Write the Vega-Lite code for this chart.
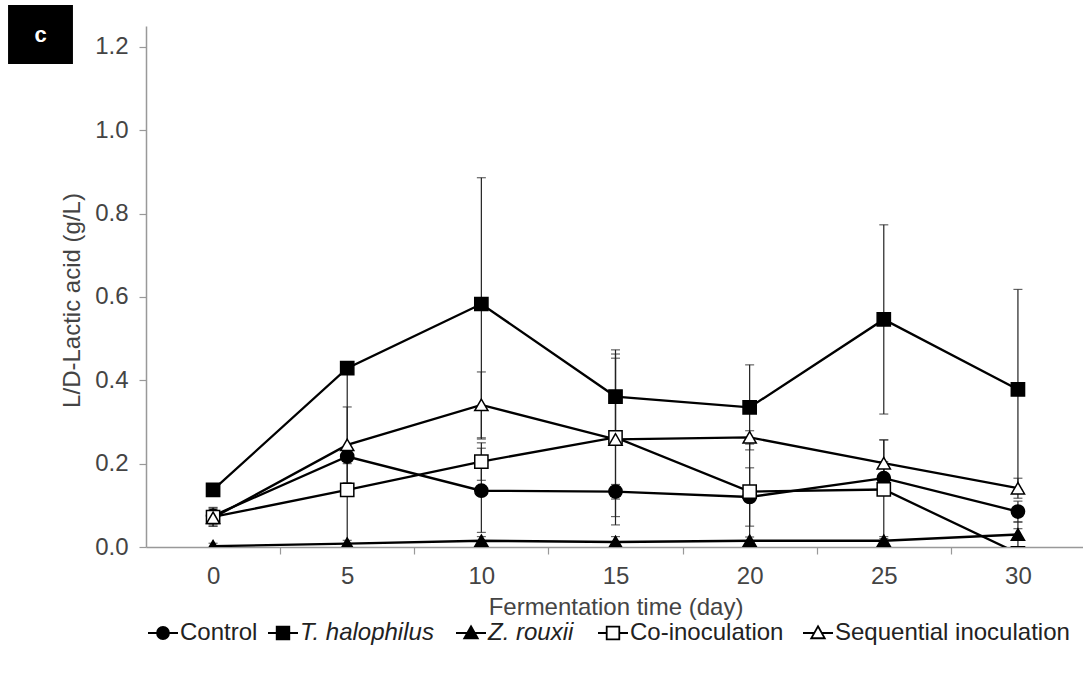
{
  "$schema": "https://vega.github.io/schema/vega-lite/v6.json",
  "width": 939,
  "height": 521,
  "autosize": "none",
  "padding": {"left": 146, "top": 26, "right": 0, "bottom": 132},
  "background": "white",
  "config": {
    "font": "Liberation Sans",
    "view": {"stroke": null},
    "axis": {"grid": false}
  },
  "data": {
    "values": [
      {"day": 0, "series": "Control", "v": 0.075, "lo": 0.055, "hi": 0.095},
      {"day": 5, "series": "Control", "v": 0.217, "lo": 0.2, "hi": 0.234},
      {"day": 10, "series": "Control", "v": 0.135, "lo": 0.035, "hi": 0.237},
      {"day": 15, "series": "Control", "v": 0.133, "lo": 0.115, "hi": 0.15},
      {"day": 20, "series": "Control", "v": 0.12, "lo": 0.05, "hi": 0.19},
      {"day": 25, "series": "Control", "v": 0.165, "lo": 0.125, "hi": 0.205},
      {"day": 30, "series": "Control", "v": 0.085, "lo": 0.06, "hi": 0.11},
      {"day": 0, "series": "T. halophilus", "v": 0.137, "lo": 0.127, "hi": 0.147},
      {"day": 5, "series": "T. halophilus", "v": 0.429, "lo": -0.03, "hi": 0.429},
      {"day": 10, "series": "T. halophilus", "v": 0.583, "lo": 0.259, "hi": 0.886},
      {"day": 15, "series": "T. halophilus", "v": 0.361, "lo": 0.249, "hi": 0.473},
      {"day": 20, "series": "T. halophilus", "v": 0.335, "lo": 0.233, "hi": 0.437},
      {"day": 25, "series": "T. halophilus", "v": 0.546, "lo": 0.319, "hi": 0.773},
      {"day": 30, "series": "T. halophilus", "v": 0.378, "lo": 0.138, "hi": 0.618},
      {"day": 0, "series": "Z. rouxii", "v": 0.002, "lo": -0.005, "hi": 0.009},
      {"day": 5, "series": "Z. rouxii", "v": 0.008, "lo": 0.0, "hi": 0.016},
      {"day": 10, "series": "Z. rouxii", "v": 0.015, "lo": 0.005, "hi": 0.025},
      {"day": 15, "series": "Z. rouxii", "v": 0.012, "lo": 0.0, "hi": 0.025},
      {"day": 20, "series": "Z. rouxii", "v": 0.015, "lo": 0.006, "hi": 0.024},
      {"day": 25, "series": "Z. rouxii", "v": 0.015, "lo": 0.005, "hi": 0.025},
      {"day": 30, "series": "Z. rouxii", "v": 0.03, "lo": 0.016, "hi": 0.044},
      {"day": 0, "series": "Co-inoculation", "v": 0.072, "lo": 0.05, "hi": 0.093},
      {"day": 5, "series": "Co-inoculation", "v": 0.137, "lo": 0.125, "hi": 0.149},
      {"day": 10, "series": "Co-inoculation", "v": 0.205, "lo": 0.16, "hi": 0.25},
      {"day": 15, "series": "Co-inoculation", "v": 0.263, "lo": 0.073, "hi": 0.453},
      {"day": 20, "series": "Co-inoculation", "v": 0.133, "lo": 0.009, "hi": 0.257},
      {"day": 25, "series": "Co-inoculation", "v": 0.138, "lo": 0.02, "hi": 0.257},
      {"day": 30, "series": "Co-inoculation", "v": -0.015, "lo": -0.09, "hi": 0.06},
      {"day": 0, "series": "Sequential inoculation", "v": 0.07, "lo": 0.05, "hi": 0.09},
      {"day": 5, "series": "Sequential inoculation", "v": 0.245, "lo": 0.154, "hi": 0.336},
      {"day": 10, "series": "Sequential inoculation", "v": 0.341, "lo": 0.262, "hi": 0.42},
      {"day": 15, "series": "Sequential inoculation", "v": 0.258, "lo": 0.053, "hi": 0.463},
      {"day": 20, "series": "Sequential inoculation", "v": 0.263, "lo": 0.247, "hi": 0.279},
      {"day": 25, "series": "Sequential inoculation", "v": 0.201, "lo": 0.145, "hi": 0.257},
      {"day": 30, "series": "Sequential inoculation", "v": 0.141, "lo": 0.117, "hi": 0.165}
    ]
  },
  "encoding": {
    "x": {
      "field": "day",
      "type": "quantitative",
      "scale": {"domain": [-2.5, 32.5], "nice": false, "zero": false},
      "axis": {
        "title": "Fermentation time (day)",
        "values": [0, 2.5, 5, 7.5, 10, 12.5, 15, 17.5, 20, 22.5, 25, 27.5, 30],
        "labelExpr": "datum.value % 5 === 0 ? datum.label : ''",
        "tickOpacity": {"condition": {"test": "datum.value % 5 !== 0", "value": 1}, "value": 0},
        "domainColor": "#999999",
        "domainWidth": 1.5,
        "tickColor": "#999999",
        "tickWidth": 1.2,
        "tickSize": 7,
        "labelFontSize": 24,
        "labelColor": "#444444",
        "labelPadding": 10,
        "labelFlush": false,
        "labelOverlap": false,
        "titleFontSize": 24,
        "titleFontWeight": "normal",
        "titleColor": "#444444",
        "titlePadding": 7
      }
    }
  },
  "resolve": {"scale": {"shape": "independent", "fill": "independent"}},
  "layer": [
    {
      "mark": {"type": "rule", "color": "#222222", "strokeWidth": 1.2, "clip": true},
      "encoding": {
        "y": {
          "field": "lo",
          "type": "quantitative",
          "title": "L/D-Lactic acid (g/L)",
          "scale": {"domain": [0, 1.25], "nice": false},
          "axis": {
            "values": [0, 0.2, 0.4, 0.6, 0.8, 1.0, 1.2],
            "format": ".1f",
            "domainColor": "#999999",
            "domainWidth": 1.5,
            "tickColor": "#999999",
            "tickWidth": 1.2,
            "tickSize": 7,
            "labelFontSize": 24,
            "labelColor": "#444444",
            "labelPadding": 11,
            "labelFlush": false,
            "titleFontSize": 24,
            "titleFontWeight": "normal",
            "titleColor": "#444444",
            "titlePadding": 10,
            "titleY": 274
          }
        },
        "y2": {"field": "hi"},
        "detail": {"field": "series", "type": "nominal"}
      }
    },
    {
      "mark": {"type": "tick", "orient": "horizontal", "color": "#222222", "size": 9, "thickness": 1.2, "clip": true},
      "encoding": {
        "y": {"field": "hi", "type": "quantitative", "title": "L/D-Lactic acid (g/L)"}
      }
    },
    {
      "mark": {"type": "tick", "orient": "horizontal", "color": "#222222", "size": 9, "thickness": 1.2, "clip": true},
      "encoding": {
        "y": {"field": "lo", "type": "quantitative", "title": "L/D-Lactic acid (g/L)"}
      }
    },
    {
      "mark": {"type": "line", "color": "black", "strokeWidth": 2.3, "clip": true},
      "encoding": {
        "y": {"field": "v", "type": "quantitative", "title": "L/D-Lactic acid (g/L)"},
        "detail": {"field": "series", "type": "nominal"}
      }
    },
    {
      "mark": {"type": "point", "filled": true, "stroke": "black", "strokeWidth": 1.5, "size": 175, "opacity": 1, "clip": true},
      "encoding": {
        "y": {"field": "v", "type": "quantitative", "title": "L/D-Lactic acid (g/L)"},
        "shape": {
          "field": "series",
          "type": "nominal",
          "scale": {
            "domain": ["Control", "T. halophilus", "Z. rouxii", "Co-inoculation", "Sequential inoculation"],
            "range": ["circle", "square", "triangle-up", "square", "triangle-up"]
          },
          "legend": null
        },
        "fill": {
          "field": "series",
          "type": "nominal",
          "scale": {
            "domain": ["Control", "T. halophilus", "Z. rouxii", "Co-inoculation", "Sequential inoculation"],
            "range": ["black", "black", "black", "white", "white"]
          },
          "legend": null
        }
      }
    },
    {
      "transform": [{"filter": "datum.series === 'Control'"}],
      "mark": {"type": "point", "filled": true, "fill": "black", "stroke": "black", "strokeWidth": 1.8, "opacity": 0},
      "encoding": {
        "y": {"field": "v", "type": "quantitative", "title": "L/D-Lactic acid (g/L)"},
        "shape": {
          "field": "series",
          "type": "nominal",
          "scale": {
            "domain": ["Control"],
            "range": ["M-1,0H-0.4M0.4,0H1M-0.4,0A0.4,0.4,0,1,1,0.4,0A0.4,0.4,0,1,1,-0.4,0Z"]
          },
          "legend": {
            "orient": "none",
            "legendX": 1,
            "legendY": 591,
            "direction": "horizontal",
            "title": null,
            "padding": 0,
            "columnPadding": 15,
            "symbolSize": 900,
            "symbolStrokeWidth": 1.8,
            "symbolOpacity": 1,
            "labelFontSize": 24,
            "labelColor": "#222222",
            "labelOffset": 1,
            "labelLimit": 400
          }
        }
      }
    },
    {
      "transform": [{"filter": "datum.series === 'T. halophilus' || datum.series === 'Z. rouxii'"}],
      "mark": {"type": "point", "filled": true, "fill": "black", "stroke": "black", "strokeWidth": 1.8, "opacity": 0},
      "encoding": {
        "y": {"field": "v", "type": "quantitative", "title": "L/D-Lactic acid (g/L)"},
        "shape": {
          "field": "series",
          "type": "nominal",
          "scale": {
            "domain": ["T. halophilus", "Z. rouxii"],
            "range": ["M-1,0H-0.42M0.42,0H1M-0.42,-0.42H0.42V0.42H-0.42Z", "M-1,0H-0.25M0.25,0H1M0,-0.45L0.45,0.35H-0.45Z"]
          },
          "legend": {
            "orient": "none",
            "legendX": 121,
            "legendY": 591,
            "direction": "horizontal",
            "title": null,
            "padding": 0,
            "columnPadding": 18,
            "symbolSize": 900,
            "symbolStrokeWidth": 1.8,
            "symbolOpacity": 1,
            "labelFontSize": 24,
            "labelFontStyle": "italic",
            "labelColor": "#222222",
            "labelOffset": 1,
            "labelLimit": 400
          }
        }
      }
    },
    {
      "transform": [{"filter": "datum.series === 'Co-inoculation' || datum.series === 'Sequential inoculation'"}],
      "mark": {"type": "point", "filled": true, "fill": "white", "stroke": "black", "strokeWidth": 1.8, "opacity": 0},
      "encoding": {
        "y": {"field": "v", "type": "quantitative", "title": "L/D-Lactic acid (g/L)"},
        "shape": {
          "field": "series",
          "type": "nominal",
          "scale": {
            "domain": ["Co-inoculation", "Sequential inoculation"],
            "range": ["M-1,0H-0.42M0.42,0H1M-0.42,-0.42H0.42V0.42H-0.42Z", "M-1,0H-0.25M0.25,0H1M0,-0.45L0.45,0.35H-0.45Z"]
          },
          "legend": {
            "orient": "none",
            "legendX": 451,
            "legendY": 591,
            "direction": "horizontal",
            "title": null,
            "padding": 0,
            "columnPadding": 15,
            "symbolSize": 900,
            "symbolStrokeWidth": 1.8,
            "symbolOpacity": 1,
            "labelFontSize": 24,
            "labelColor": "#222222",
            "labelOffset": 1,
            "labelLimit": 400
          }
        }
      }
    },
    {
      "data": {"values": [{"panel": "c"}]},
      "mark": {"type": "square", "filled": true, "opacity": 0},
      "encoding": {
        "x": null,
        "color": {
          "field": "panel",
          "type": "nominal",
          "scale": {"range": ["black"]},
          "legend": {
            "orient": "none",
            "legendX": -135,
            "legendY": -21,
            "title": null,
            "padding": 0,
            "symbolType": "M-1.1,-1H1.1V1H-1.1Z",
            "symbolSize": 3481,
            "symbolFillColor": "black",
            "symbolStrokeColor": "black",
            "symbolStrokeWidth": 0,
            "symbolOpacity": 1,
            "labelColor": "white",
            "labelFontSize": 22,
            "labelFontWeight": "bold",
            "labelAlign": "center",
            "labelOffset": -29.5
          }
        }
      }
    }
  ]
}
